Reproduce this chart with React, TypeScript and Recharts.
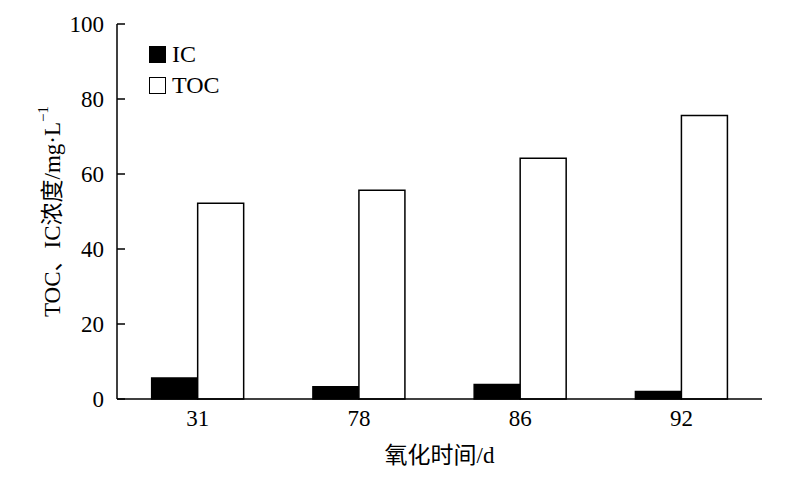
import React from 'react';
import { BarChart, Bar, XAxis, YAxis, Legend } from 'recharts';

const categories = ['31', '78', '86', '92'];
const icValues = [5.6, 3.3, 3.9, 2.0];
const tocValues = [52.2, 55.7, 64.2, 75.6];
const yTicks = [0, 20, 40, 60, 80, 100];

const data = categories.map((c, i) => ({ day: c, IC: icValues[i], TOC: tocValues[i] }));

const FONT = '"Liberation Serif", "Noto Sans CJK SC", serif';

const LegendContent = (props: any) => {
  const { payload } = props;
  return (
    <div style={{ fontFamily: FONT, fontSize: 24, color: '#000', lineHeight: '31px' }}>
      {(payload || []).map((p: any) => (
        <div key={p.value} style={{ display: 'flex', alignItems: 'center', height: 31 }}>
          <span
            style={{
              display: 'inline-block',
              width: 15,
              height: 15,
              border: '1.5px solid #000',
              background: p.value === 'IC' ? '#000' : '#fff',
              marginRight: 6,
            }}
          />
          <span>{p.value}</span>
        </div>
      ))}
    </div>
  );
};

const YLabel = (props: any) => {
  const vb = props.viewBox || {};
  const x = vb.x + 12;
  const y = vb.y + vb.height / 2;
  return (
    <text
      x={x}
      y={y}
      transform={`rotate(-90, ${x}, ${y})`}
      textAnchor="middle"
      dominantBaseline="central"
      fontFamily={FONT}
      fontSize={23}
      fill="#000"
    >
      TOC、IC浓度/mg·L
      <tspan dy={-9} fontSize={15}>−1</tspan>
    </text>
  );
};

const XLabel = (props: any) => {
  const vb = props.viewBox || {};
  return (
    <text
      x={vb.x + vb.width / 2}
      y={vb.y + 56}
      textAnchor="middle"
      dominantBaseline="central"
      fontFamily={FONT}
      fontSize={23}
      fill="#000"
    >
      氧化时间/d
    </text>
  );
};

export default function App() {
  return (
    <div style={{ position: 'absolute', left: 0, top: 0, width: 800, height: 480, background: '#fff' }}>
      <BarChart
        width={800}
        height={480}
        data={data}
        margin={{ top: 24, right: 38, left: 40, bottom: 30 }}
        barCategoryGap="21.5%"
        barGap={0}
      >
        <XAxis
          dataKey="day"
          height={51}
          tickLine={false}
          axisLine={{ stroke: '#000', strokeWidth: 1.5 }}
          tick={{ fill: '#000', fontSize: 23, fontFamily: FONT }}
          tickMargin={5}
          label={<XLabel />}
        />
        <XAxis
          xAxisId="top"
          orientation="top"
          dataKey="day"
          height={0}
          tick={false}
          tickLine={false}
          axisLine={{ stroke: '#000', strokeWidth: 1.5 }}
        />
        <YAxis
          width={77}
          domain={[0, 100]}
          ticks={yTicks}
          interval={0}
          tickSize={-8}
          tickMargin={21}
          tickLine={{ stroke: '#000', strokeWidth: 1.5 }}
          axisLine={{ stroke: '#000', strokeWidth: 1.5 }}
          tick={{ fill: '#000', fontSize: 23, fontFamily: FONT }}
          label={<YLabel />}
        />
        <YAxis
          yAxisId="right"
          orientation="right"
          width={0}
          domain={[0, 100]}
          tick={false}
          tickLine={false}
          axisLine={{ stroke: '#000', strokeWidth: 1.5 }}
        />
        <Legend
          layout="vertical"
          align="center"
          verticalAlign="middle"
          content={<LegendContent />}
          wrapperStyle={{ left: 149, top: 39, width: 120 }}
        />
        <Bar dataKey="IC" fill="#000" stroke="#000" strokeWidth={1.5} isAnimationActive={false} />
        <Bar dataKey="TOC" fill="#fff" stroke="#000" strokeWidth={1.5} isAnimationActive={false} />
      </BarChart>
    </div>
  );
}
